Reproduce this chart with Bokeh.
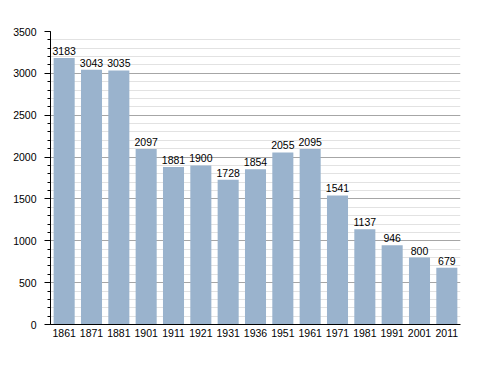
from bokeh.plotting import figure
from bokeh.models import ColumnDataSource, SingleIntervalTicker, Range1d
from bokeh.core.properties import value
from bokeh.embed import file_html
from bokeh.resources import INLINE

years = ["1861", "1871", "1881", "1901", "1911", "1921", "1931", "1936",
         "1951", "1961", "1971", "1981", "1991", "2001", "2011"]
population = [3183, 3043, 3035, 2097, 1881, 1900, 1728, 1854,
              2055, 2095, 1541, 1137, 946, 800, 679]
labels = [str(v) for v in population]

src = ColumnDataSource(dict(x=years, top=population, label=labels))

p = figure(x_range=years, y_range=Range1d(0, 3500), width=472, height=357,
           output_backend="svg", toolbar_location=None,
           min_border_left=50, min_border_right=12, min_border_top=31, min_border_bottom=33)
p.outline_line_color = None
p.background_fill_color = "white"

p.vbar(x="x", top="top", width=0.77, source=src, color="#9ab3cd", line_color=None)
p.text(x="x", y="top", text="label", source=src, text_align="center",
       text_baseline="bottom", y_offset=-3, text_font_size="10.5px",
       text_color="black", text_font=value("Liberation Sans"))

p.yaxis.ticker = SingleIntervalTicker(interval=500, num_minor_ticks=5)
p.yaxis.axis_line_color = "black"
p.yaxis.major_tick_line_color = "black"
p.yaxis.minor_tick_line_color = "black"
p.yaxis.major_tick_out = 6
p.yaxis.major_tick_in = 0
p.yaxis.minor_tick_out = 3
p.yaxis.minor_tick_in = 0
p.yaxis.major_label_standoff = 8
p.yaxis.major_label_text_font = "Liberation Sans"
p.yaxis.major_label_text_font_size = "10.5px"
p.yaxis.major_label_text_color = "black"

p.xaxis.axis_line_color = "black"
p.xaxis.major_tick_line_color = None
p.xaxis.minor_tick_line_color = None
p.xaxis.major_tick_out = 0
p.xaxis.major_tick_in = 0
p.xaxis.major_label_text_font = "Liberation Sans"
p.xaxis.major_label_text_font_size = "10.5px"
p.xaxis.major_label_text_color = "black"
p.xaxis.major_label_standoff = 4

p.xgrid.grid_line_color = None
p.ygrid.grid_line_color = "#a6a6a6"
p.ygrid.minor_grid_line_color = "#e2e2e2"

open("out.html", "w").write(file_html(p, INLINE))
